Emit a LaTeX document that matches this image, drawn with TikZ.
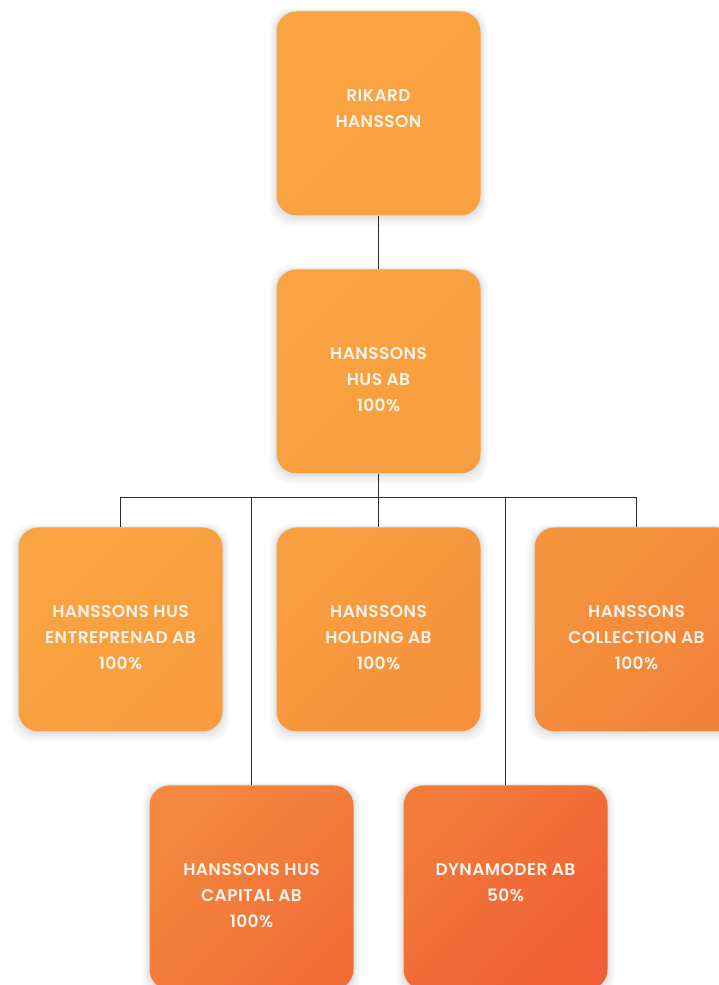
\documentclass[tikz,border=0pt]{standalone}
\usepackage{fontspec}
\setmainfont{Poppins}[BoldFont={Poppins SemiBold},BoldFeatures={LetterSpace=2.5}]
\usetikzlibrary{shadows,backgrounds}
\definecolor{lineclr}{HTML}{2B2B2B}
\definecolor{txtclr}{HTML}{FFF3EA}
\definecolor{ra}{HTML}{F9A441}\definecolor{rb}{HTML}{F9A140}
\definecolor{ha}{HTML}{F9A342}\definecolor{hb}{HTML}{F79E3F}
\definecolor{ea}{HTML}{F9A441}\definecolor{eb}{HTML}{F79C3F}
\definecolor{oa}{HTML}{F8A040}\definecolor{ob}{HTML}{F5903C}
\definecolor{ca}{HTML}{F6953D}\definecolor{cb}{HTML}{F2823A}
\definecolor{pa}{HTML}{F4883E}\definecolor{pb}{HTML}{F16E38}
\definecolor{da}{HTML}{F27B3A}\definecolor{db}{HTML}{F05E35}
\newcommand{\boxlines}[1]{\begin{tabular}[t]{@{}c@{}}#1\end{tabular}}
\tikzset{soft/.style = {general shadow={fill=black,opacity=0.025,shadow scale=1.07,shadow yshift=-3pt},
    general shadow={fill=black,opacity=0.025,shadow scale=1.05,shadow yshift=-3pt},
    general shadow={fill=black,opacity=0.03,shadow scale=1.03,shadow yshift=-2pt},
    general shadow={fill=black,opacity=0.03,shadow scale=1.015,shadow yshift=-1pt}}}
\tikzset{box/.style 2 args = {shape=rectangle,minimum width=204pt,minimum height=204pt,
    text height=90pt,text depth=114pt,
    rounded corners=20pt,inner sep=0pt,text=txtclr,soft,
    top color=#1,bottom color=#2,shading angle=45}}
\tikzset{link/.style = {draw=lineclr,line width=1.2pt}}

\begin{document}
\begin{tikzpicture}[x=1pt,y=1pt,font=\fontsize{17}{26}\selectfont\bfseries]
  \useasboundingbox (0,0) rectangle (718,985);

  \node[box={ra}{rb}] (rikard) at (378.5,871.5) {\boxlines{RIKARD\\HANSSON}};
  \node[box={ha}{hb}] (hus) at (378.5,613.5) {\boxlines{HANSSONS\\HUS AB\\100\%}};
  \node[box={ea}{eb}] (entr) at (120.5,355.5) {\boxlines{HANSSONS HUS\\ENTREPRENAD AB\\100\%}};
  \node[box={oa}{ob}] (hold) at (378.5,355.5) {\boxlines{HANSSONS\\HOLDING AB\\100\%}};
  \node[box={ca}{cb}] (coll) at (636.5,355.5) {\boxlines{HANSSONS\\COLLECTION AB\\100\%}};
  \node[box={pa}{pb}] (capi) at (251.5,97.5) {\boxlines{HANSSONS HUS\\CAPITAL AB\\100\%}};
  \node[box={da}{db}] (dyna) at (505.5,97.5) {\boxlines{DYNAMODER AB\\50\%}};

  \coordinate (bus) at ([yshift=-23.5pt]hus.south);
  \begin{scope}[on background layer]
    \fill[white] (0,0) rectangle (718,985);
    \draw[link] (rikard) -- (hus);
    \draw[link] (hus) -- (hold);
    \draw[link] (bus) -| (entr);
    \draw[link] (bus) -| (coll);
    \draw[link] (bus) -| (capi.north);
    \draw[link] (bus) -| (dyna.north);
  \end{scope}
\end{tikzpicture}
\end{document}
